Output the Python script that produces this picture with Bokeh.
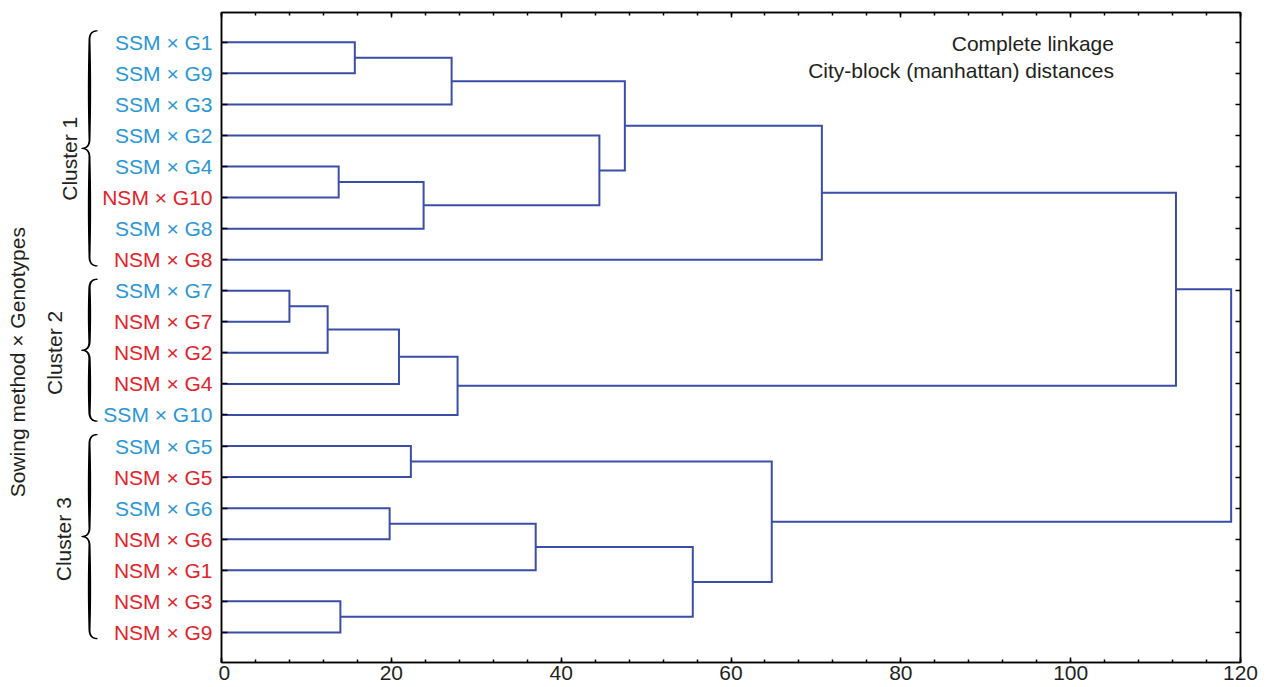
import numpy as np
from bokeh.plotting import figure
from bokeh.layouts import row
from bokeh.models import Range1d, LinearAxis, FixedTicker, Label
from bokeh.core.properties import value
from bokeh.embed import file_html
from bokeh.resources import INLINE

# ---------------- data ----------------
leaves = ["SSM × G1", "SSM × G9", "SSM × G3", "SSM × G2", "SSM × G4", "NSM × G10",
          "SSM × G8", "NSM × G8", "SSM × G7", "NSM × G7", "NSM × G2", "NSM × G4",
          "SSM × G10", "SSM × G5", "NSM × G5", "SSM × G6", "NSM × G6", "NSM × G1",
          "NSM × G3", "NSM × G9"]
# linkage: node ids 0..19 are leaves, merge k creates node 20+k
merge_left = [0, 20, 4, 22, 3, 21, 25, 8, 27, 28, 29, 26, 13, 15, 33, 18, 34, 32, 31]
merge_right = [1, 2, 5, 6, 23, 24, 7, 9, 10, 11, 12, 30, 14, 16, 17, 19, 35, 36, 37]
merge_height = [15.7, 27.1, 13.8, 23.8, 44.5, 47.5, 70.7, 8.0, 12.5, 20.9, 27.8,
                112.4, 22.3, 19.8, 37.0, 14.0, 55.5, 64.8, 118.9]
cluster_names = ["Cluster 1", "Cluster 2", "Cluster 3"]
cluster_first = [0, 8, 13]
cluster_last = [7, 12, 19]
x_ticks = [0, 20, 40, 60, 80, 100, 120]
note_lines = ["Complete linkage", "City-block (manhattan) distances"]
y_title = "Sowing method × Genotypes"

# ---------------- style ----------------
FONT = "Liberation Sans"
FS = "21px"
LINK = "#3a4ea8"
SSM_C = "#2a96d4"
NSM_C = "#e2232a"
INK = "#231f20"

LW = 218            # width of the left label panel
FRAME_W, FRAME_H = 1019, 650
BT, BB = 12, 25
XR = (0, 120)
YR = Range1d(19.97, -0.96)
PX_Y = FRAME_H / abs(YR.start - YR.end)

p = figure(frame_width=FRAME_W, frame_height=FRAME_H, output_backend="svg",
           toolbar_location=None, x_range=Range1d(*XR), y_range=YR,
           min_border_left=3, min_border_right=20, min_border_top=BT,
           min_border_bottom=BB, tools="")
p.grid.visible = False
p.background_fill_color = "white"
p.border_fill_color = "white"
p.outline_line_color = "black"
p.outline_line_width = 1.5

# ---- dendrogram links ----
nx = {i: 0.0 for i in range(len(leaves))}
ny = {i: float(i) for i in range(len(leaves))}
xs, ys = [], []
for k, (l, r, h) in enumerate(zip(merge_left, merge_right, merge_height)):
    nid = len(leaves) + k
    xs.append([nx[l], h, h, nx[r]])
    ys.append([ny[l], ny[l], ny[r], ny[r]])
    nx[nid] = h
    ny[nid] = (ny[l] + ny[r]) / 2
p.multi_line(xs=xs, ys=ys, line_color=LINK, line_width=2, line_join="miter")

# ---- axes ----
def style_axis(ax, ticks, tick_in, minor_in=0, labels=False):
    ax.ticker = FixedTicker(ticks=ticks,
                            minor_ticks=list(np.arange(0, 121, 4)) if minor_in else [])
    ax.axis_line_color = "black"
    ax.axis_line_width = 1.5
    ax.major_tick_in = tick_in
    ax.major_tick_out = 0
    ax.major_tick_line_width = 1.5
    ax.minor_tick_in = minor_in
    ax.minor_tick_out = 0
    ax.minor_tick_line_width = 1.5
    if labels:
        ax.major_label_text_font = FONT
        ax.major_label_text_font_size = FS
        ax.major_label_text_color = INK
        ax.major_label_standoff = 3
    else:
        ax.major_label_overrides = {t: "" for t in ticks}
        ax.major_label_standoff = 0

style_axis(p.xaxis[0], x_ticks, 5, 3, labels=True)
style_axis(p.yaxis[0], list(range(len(leaves))), 6)
top = LinearAxis()
style_axis(top, x_ticks, 5, 3)
p.add_layout(top, "above")
right = LinearAxis()
style_axis(right, list(range(len(leaves))), 5)
p.add_layout(right, "right")

# ---- notes ----
for i, t in enumerate(note_lines):
    p.add_layout(Label(x=105.1, y=0.05 + 0.85 * i, text=t, text_align="right",
                       text_baseline="middle", text_font=FONT,
                       text_font_size=FS, text_color=INK))

# ---------------- left panel (labels, braces) ----------------
q = figure(frame_width=LW, frame_height=FRAME_H, output_backend="svg",
           toolbar_location=None, x_range=Range1d(0, LW), y_range=YR,
           min_border_left=0, min_border_right=0, min_border_top=BT,
           min_border_bottom=BB, tools="", x_axis_location=None,
           y_axis_location=None)
q.grid.visible = False
q.outline_line_color = None
q.background_fill_color = "white"
q.border_fill_color = "white"

# leaf labels
q.text(x=[212] * len(leaves), y=list(range(len(leaves))), text=leaves,
       text_align="right", text_baseline="middle",
       text_color=[SSM_C if s.startswith("SSM") else NSM_C for s in leaves],
       text_font=value(FONT), text_font_size=value(FS))

# y title
q.text(x=[17], y=[10.3], text=[y_title], angle=np.pi / 2, text_align="center",
       text_baseline="middle", text_color=INK, text_font=value(FONT),
       text_font_size=value(FS))

def qbez(p0, p1, p2, n=25):
    t = np.linspace(0, 1, n)[:, None]
    return (1 - t) ** 2 * np.array(p0) + 2 * (1 - t) * t * np.array(p1) + t ** 2 * np.array(p2)

def brace(y0, y1):
    top_, bot_ = y0 * PX_Y, y1 * PX_Y
    mid = (top_ + bot_) / 2
    r = 9.0
    xe, xs_, xt = 97.0, 89.0, 81.0
    segs = [qbez((xe, top_), (xs_, top_), (xs_, top_ + r)),
            np.linspace((xs_, top_ + r), (xs_, mid - r), 40),
            qbez((xs_, mid - r), (xs_, mid), (xt, mid)),
            qbez((xt, mid), (xs_, mid), (xs_, mid + r)),
            np.linspace((xs_, mid + r), (xs_, bot_ - r), 40),
            qbez((xs_, bot_ - r), (xs_, bot_), (xe, bot_))]
    c = segs[0]
    for s in segs[1:]:
        c = np.vstack([c, s[1:]])
    d = np.gradient(c, axis=0)
    nrm = np.stack([-d[:, 1], d[:, 0]], axis=1)
    nrm /= np.linalg.norm(nrm, axis=1)[:, None]
    arc = np.r_[0, np.cumsum(np.linalg.norm(np.diff(c, axis=0), axis=1))]
    half = arc[-1] / 2
    u = np.where(arc <= half, arc / half, (arc - half) / half)
    w = 1.3 + 2.0 * np.sin(np.pi * u)
    a = c + nrm * (w / 2)[:, None]
    b = c - nrm * (w / 2)[:, None]
    poly = np.vstack([a, b[::-1]])
    return list(poly[:, 0]), list(poly[:, 1] / PX_Y)

label_x = [68.5, 54, 62.5]
for name, f, l, lx in zip(cluster_names, cluster_first, cluster_last, label_x):
    bx, by = brace(f - 0.37, l + 0.2)
    q.patch(x=bx, y=by, fill_color="black", line_alpha=0)
    yc = (f + l) / 2 + (0.25 if f == 0 else 0)
    q.text(x=[lx], y=[yc], text=[name], angle=np.pi / 2, text_align="center",
           text_baseline="middle", text_color=INK, text_font=value(FONT),
           text_font_size=value(FS))

layout = row(q, p, spacing=0)
open("out.html", "w").write(file_html(layout, INLINE))
